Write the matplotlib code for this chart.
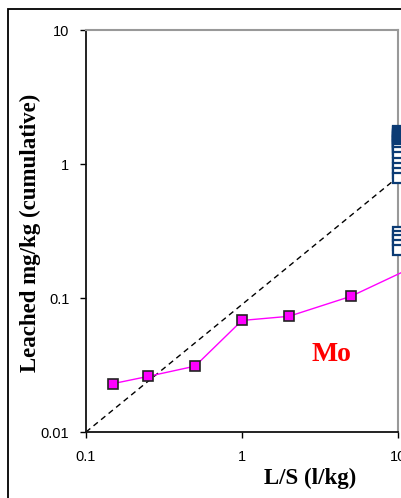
import matplotlib
matplotlib.use("Agg")
import matplotlib.pyplot as plt
from matplotlib.patches import Rectangle

# Mo leaching, cumulative (magenta series)
mo_ls = [0.15, 0.25, 0.5, 1, 2, 5, 20]
mo_val = [0.023, 0.026, 0.031, 0.068, 0.073, 0.103, 0.22]

# column / batch results at L/S = 10 (navy open squares)
col_val = [1.75, 1.72, 1.68, 1.65, 1.62, 1.58, 1.55, 1.52, 1.48, 1.45, 1.42,
           1.38, 1.35, 1.3, 1.22, 1.12, 1.02, 0.93, 0.85, 0.78,
           0.31, 0.29, 0.27, 0.25, 0.23]
col_ls = [10] * len(col_val)

# dashed reference line
ref_ls = [0.1, 10]
ref_val = [0.01, 0.8]

xticks = [0.1, 1, 10]
xtick_labels = ["0.1", "1", "10"]
yticks = [0.01, 0.1, 1, 10]
ytick_labels = ["0.01", "0.1", "1", "10"]

fig = plt.figure(figsize=(4.02, 4.98), dpi=100)
ax = fig.add_axes([86 / 402, 1 - 432 / 498, 312 / 402, 402 / 498])

# outer chart frame (cut off at right and bottom)
fig.patches.append(Rectangle((8 / 402, -0.5), 2.0, 1.5 - 9 / 498,
                             transform=fig.transFigure, fill=False,
                             edgecolor="black", linewidth=1.3))

ax.plot(ref_ls, ref_val, color="black", linewidth=1.0, dashes=(4, 3), zorder=2)
ax.plot(mo_ls, mo_val, color="#FF00FF", linewidth=1.0, marker="s",
        markersize=7.5, markerfacecolor="#FF00FF", markeredgecolor="#222222",
        markeredgewidth=1.2, clip_on=False, zorder=3)
ax.plot(col_ls, col_val, linestyle="none", marker="s", markersize=7.2,
        markerfacecolor="white", markeredgecolor="#0B3B74",
        markeredgewidth=1.6, clip_on=False, zorder=4)

ax.set_xscale("log")
ax.set_yscale("log")
ax.set_xlim(0.1, 10)
ax.set_ylim(0.01, 10)
ax.set_xticks(xticks)
ax.set_xticklabels(xtick_labels)
ax.set_yticks(yticks)
ax.set_yticklabels(ytick_labels)
ax.minorticks_off()
ax.tick_params(direction="out", length=4, width=1, labelsize=10.5)
ax.tick_params(axis="x", pad=9)
ax.tick_params(axis="y", pad=8)
for lab in ax.get_xticklabels() + ax.get_yticklabels():
    lab.set_fontfamily("Liberation Sans")

for side in ["left", "bottom"]:
    ax.spines[side].set_color("#111111")
    ax.spines[side].set_linewidth(1.3)
for side in ["top", "right"]:
    ax.spines[side].set_color("#999999")
    ax.spines[side].set_linewidth(1.5)

ax.text(0.788, 0.194, "Mo", transform=ax.transAxes, color="#FF0000",
        fontsize=20, fontweight="bold", family="Liberation Serif",
        ha="center", va="center")

fig.text(310 / 402, 1 - 478 / 498, "L/S (l/kg)", fontsize=16.5,
         fontweight="bold", family="Liberation Serif", ha="center", va="center")
fig.text(30 / 402, 1 - 233 / 498, "Leached mg/kg (cumulative)", fontsize=16.5,
         fontweight="bold", family="Liberation Serif", rotation=90,
         ha="center", va="center")

fig.savefig("out.png", dpi=100)
